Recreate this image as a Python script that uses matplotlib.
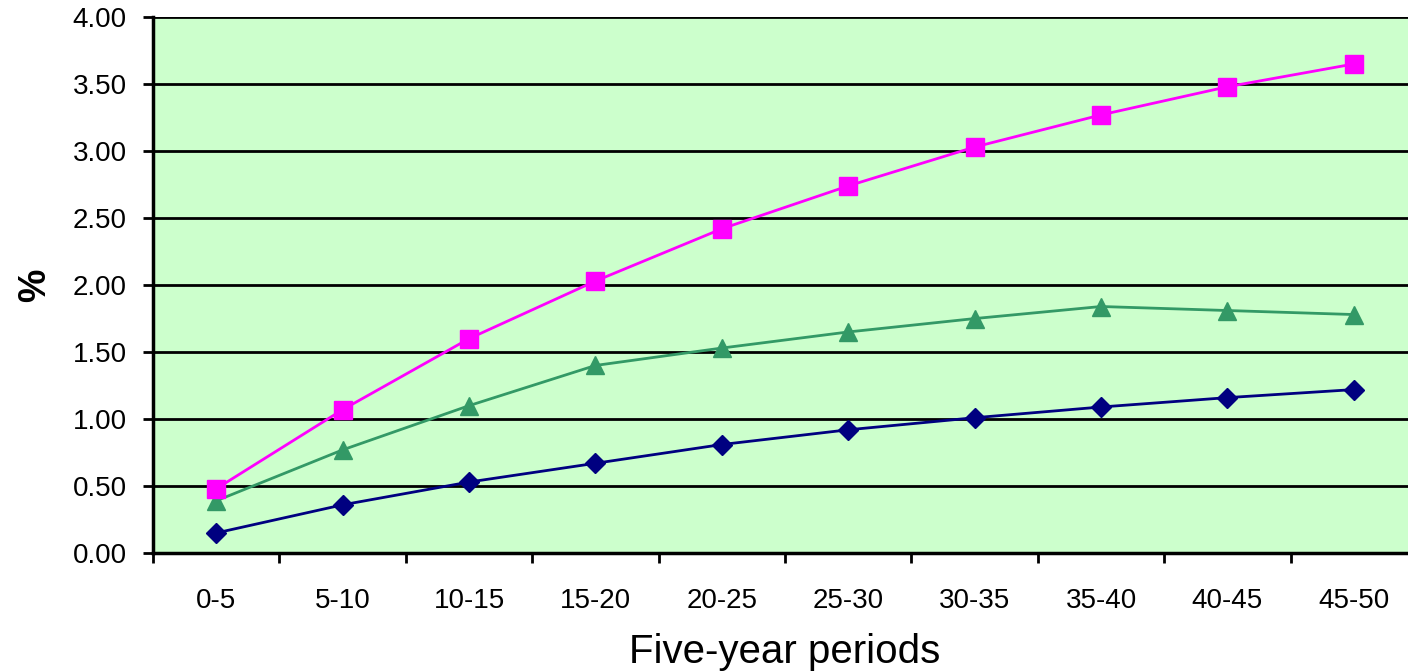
import matplotlib.pyplot as plt
import numpy as np

plt.rcParams['font.family'] = ['Liberation Sans', 'DejaVu Sans']

periods = ['0-5', '5-10', '10-15', '15-20', '20-25', '25-30', '30-35', '35-40', '40-45', '45-50']
pink_vals = [0.48, 1.07, 1.60, 2.03, 2.42, 2.74, 3.03, 3.27, 3.48, 3.65]
green_vals = [0.39, 0.77, 1.10, 1.40, 1.53, 1.65, 1.75, 1.84, 1.81, 1.78]
navy_vals = [0.15, 0.36, 0.53, 0.67, 0.81, 0.92, 1.01, 1.09, 1.16, 1.22]

fig = plt.figure(figsize=(14.08, 6.72), dpi=100)
ax = fig.add_axes([0.1087, 0.177, 0.8977, 0.7976])
ax.set_facecolor('#CCFFCC')

x = np.arange(len(periods))
ax.plot(x, navy_vals, color='#000080', lw=2, marker='D', ms=10, zorder=3)
ax.plot(x, green_vals, color='#339966', lw=2, marker='^', ms=12.5, zorder=3)
ax.plot(x, pink_vals, color='#FF00FF', lw=2, marker='s', ms=12.5, zorder=3)

ax.set_xlim(-0.5, len(periods) - 0.5)
ax.set_ylim(0, 4)
ax.set_yticks(np.arange(0, 4.01, 0.5))
ax.set_yticklabels(['%.2f' % v for v in np.arange(0, 4.01, 0.5)], fontsize=20)
ax.yaxis.grid(True, color='black', lw=2)
ax.set_axisbelow(True)

# category boundaries get the tick marks, centres get the labels
ax.set_xticks(np.arange(-0.5, len(periods), 1.0))
ax.set_xticklabels([])
ax.set_xticks(x, minor=True)
ax.set_xticklabels(periods, minor=True, fontsize=20)
ax.tick_params(axis='x', which='minor', length=0, pad=25)
ax.tick_params(axis='x', which='major', length=7, width=2, direction='out')
ax.tick_params(axis='y', length=7, width=2, pad=12)

for side in ['top', 'right']:
    ax.spines[side].set_visible(False)
for side in ['left', 'bottom']:
    ax.spines[side].set_linewidth(2.5)

ax.set_xlabel('Five-year periods', fontsize=29, labelpad=14)
ax.set_ylabel('%', fontsize=27, fontweight='bold', labelpad=14)

fig.savefig('out.png', dpi=100)
